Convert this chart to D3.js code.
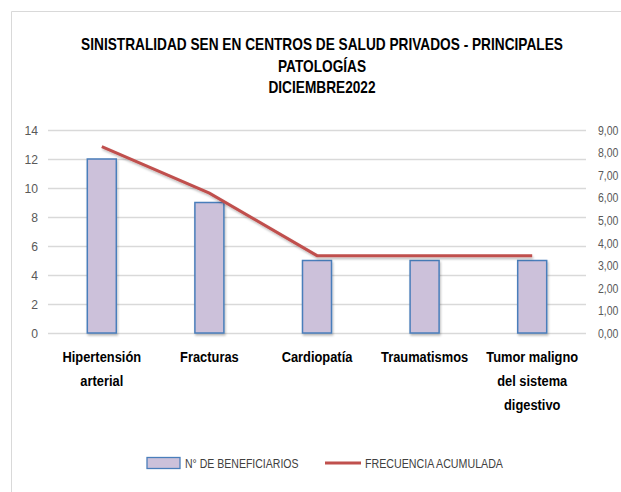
<!DOCTYPE html>
<html lang="es">
<head>
    <meta charset="UTF-8">
    <title>Sinistralidad SEN</title>
    <style>
        body { margin: 0; background: #fff; }
        text { font-family: "Liberation Sans Narrow", "Arial Narrow", "Liberation Sans", sans-serif; }
    </style>
</head>
<body>
<script src="https://d3js.org/d3.v7.min.js"></script>
<script>
    let w = 621, h = 492;

    // datos
    let categorias = [["Hipertensión", "arterial"], ["Fracturas"], ["Cardiopatía"], ["Traumatismos"], ["Tumor maligno", "del sistema", "digestivo"]];
    let beneficiarios = [12, 9, 5, 5, 5];
    let frecuencia = [8.26, 6.20, 3.43, 3.43, 3.43];
    let ticksIzq = [0, 2, 4, 6, 8, 10, 12, 14];
    let ticksDer = [0, 1, 2, 3, 4, 5, 6, 7, 8, 9];
    let titulo = ["SINISTRALIDAD SEN EN CENTROS DE SALUD PRIVADOS - PRINCIPALES", "PATOLOGÍAS", "DICIEMBRE2022"];

    let inner = {left: 48, right: 586, top: 130, bottom: 333};

    // no hay fuente estrecha: se comprime el texto con scale(k,1)
    function estrechar(sel, k) {
        sel.each(function () {
            let t = d3.select(this);
            let tx = +t.attr("x") || 0, ty = +t.attr("y") || 0;
            let prev = t.attr("transform") || "";
            t.attr("x", 0).attr("y", 0)
                .attr("transform", prev + " translate(" + tx + "," + ty + ") scale(" + k + ",1)");
        });
    }

    let svg = d3.select("body")
        .append("svg")
        .attr("width", w)
        .attr("height", h);

    let defs = svg.append("defs");
    let f = defs.append("filter").attr("id", "sombra")
        .attr("x", "-10%").attr("y", "-10%").attr("width", "130%").attr("height", "140%");
    f.append("feDropShadow").attr("dx", 1).attr("dy", 2).attr("stdDeviation", 1.2)
        .attr("flood-color", "#000").attr("flood-opacity", 0.25);

    // borde del gráfico
    svg.append("path")
        .attr("d", "M11.5," + h + "V11.5H" + w)
        .attr("fill", "none")
        .attr("stroke", "#d9d9d9")
        .attr("stroke-width", 1);

    // título
    svg.append("g").selectAll("text")
        .data(titulo)
        .enter()
        .append("text")
        .attr("x", 322)
        .attr("y", (d, i) => 50 + i * 21.5)
        .attr("text-anchor", "middle")
        .style("font-size", "16px")
        .style("font-weight", "bold")
        .attr("fill", "#000")
        .text(d => d)
        .call(estrechar, 0.855);

    let x = d3.scaleBand()
        .domain(d3.range(categorias.length))
        .range([inner.left, inner.right]);

    let yIzq = d3.scaleLinear().domain([0, 14]).range([inner.bottom, inner.top]);
    let yDer = d3.scaleLinear().domain([0, 9]).range([inner.bottom, inner.top]);

    // líneas de cuadrícula
    svg.append("g").selectAll("line")
        .data(ticksIzq)
        .enter()
        .append("line")
        .attr("x1", inner.left)
        .attr("x2", inner.right)
        .attr("y1", d => Math.round(yIzq(d)) + 0.5)
        .attr("y2", d => Math.round(yIzq(d)) + 0.5)
        .attr("stroke", "#d9d9d9")
        .attr("stroke-width", 1.3);

    // ejes
    let ejeIzq = svg.append("g")
        .attr("transform", "translate(" + (inner.left - 10) + ",0)")
        .call(d3.axisLeft(yIzq).tickValues(ticksIzq).tickSize(0).tickPadding(0));
    let ejeDer = svg.append("g")
        .attr("transform", "translate(" + (inner.right + 12) + ",0)")
        .call(d3.axisRight(yDer).tickValues(ticksDer).tickSize(0).tickPadding(0)
            .tickFormat(d => d3.format(".2f")(d).replace(".", ",")));
    [ejeIzq, ejeDer].forEach(function (g) {
        g.select(".domain").remove();
        g.selectAll("text")
            .style("font-size", "13.5px")
            .style("font-family", "\"Liberation Sans Narrow\", \"Arial Narrow\", \"Liberation Sans\", sans-serif")
            .attr("fill", "#595959");
    });
    ejeIzq.selectAll("text").call(estrechar, 0.9);
    ejeDer.selectAll("text").call(estrechar, 0.78);

    // barras
    let anchoBarra = 29;
    svg.append("g").selectAll("rect")
        .data(beneficiarios)
        .enter()
        .append("rect")
        .attr("x", (d, i) => x(i) + x.bandwidth() / 2 - anchoBarra / 2)
        .attr("y", d => yIzq(d))
        .attr("width", anchoBarra)
        .attr("height", d => yIzq(0) - yIzq(d))
        .attr("fill", "#ccc1da")
        .attr("stroke", "#4a7ebb")
        .attr("stroke-width", 1.5)
        .attr("filter", "url(#sombra)");

    // línea de frecuencia acumulada
    let linea = d3.line()
        .x((d, i) => x(i) + x.bandwidth() / 2)
        .y(d => yDer(d));
    svg.append("path")
        .datum(frecuencia)
        .attr("d", linea)
        .attr("fill", "none")
        .attr("stroke", "#c0504d")
        .attr("stroke-width", 3)
        .attr("filter", "url(#sombra)");

    // etiquetas de categorías, una línea por texto
    let filas = [];
    categorias.forEach((c, i) => c.forEach((t, j) => filas.push({t: t, i: i, j: j})));
    svg.append("g").selectAll("text")
        .data(filas)
        .enter()
        .append("text")
        .attr("x", d => x(d.i) + x.bandwidth() / 2)
        .attr("y", d => 362 + d.j * 24)
        .attr("text-anchor", "middle")
        .style("font-size", "15.5px")
        .style("font-weight", "bold")
        .attr("fill", "#000")
        .text(d => d.t)
        .call(estrechar, 0.83);

    // leyenda
    let ley = svg.append("g");
    ley.append("rect")
        .attr("x", 147).attr("y", 457.5)
        .attr("width", 33).attr("height", 11)
        .attr("fill", "#ccc1da")
        .attr("stroke", "#4a7ebb")
        .attr("stroke-width", 1.3);
    ley.append("text")
        .attr("x", 185).attr("y", 468)
        .style("font-size", "13.5px")
        .attr("fill", "#404040")
        .text("N° DE BENEFICIARIOS")
        .call(estrechar, 0.78);
    ley.append("line")
        .attr("x1", 325).attr("x2", 361)
        .attr("y1", 463).attr("y2", 463)
        .attr("stroke", "#c0504d")
        .attr("stroke-width", 3);
    ley.append("text")
        .attr("x", 365).attr("y", 468)
        .style("font-size", "13.5px")
        .attr("fill", "#404040")
        .text("FRECUENCIA ACUMULADA")
        .call(estrechar, 0.79);
</script>
</body>
</html>
